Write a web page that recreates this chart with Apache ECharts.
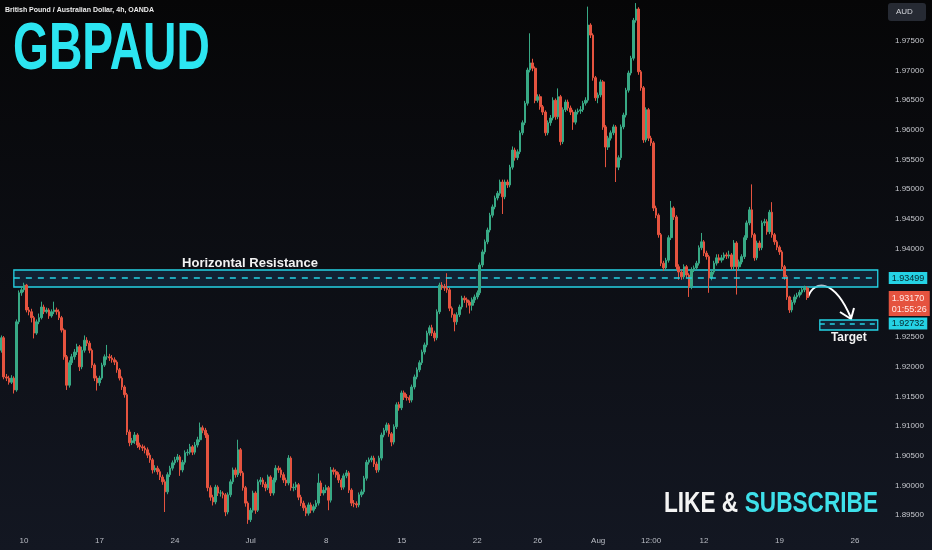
<!DOCTYPE html>
<html>
<head>
<meta charset="utf-8">
<title>GBPAUD 4h</title>
<script src="https://cdn.jsdelivr.net/npm/echarts@6/dist/echarts.min.js"></script>
<style>
  html, body { margin: 0; padding: 0; background: #0b0c10; }
  #main { width: 932px; height: 550px; }
</style>
</head>
<body>
<div id="main"></div>
<script>
// open of the very first bar; every later bar opens at the previous close
var firstOpen = 1.9228;

// 4h bars, one row per bar: [close, low, high]
var wkJun06 = [
  [1.9249,1.9224,1.9253],[1.9183,1.9179,1.9252],[1.9181,1.9176,1.9188],[1.9174,1.9170,1.9185],[1.9181,1.9171,1.9186],
  [1.9161,1.9155,1.9184],[1.9276,1.9158,1.9280],[1.9325,1.9272,1.9329],[1.9330,1.9320,1.9336]
];
var wkJun10 = [
  [1.9338,1.9326,1.9342],[1.9296,1.9292,1.9340],[1.9293,1.9287,1.9301],[1.9283,1.9275,1.9298],[1.9257,1.9248,1.9286],
  [1.9276,1.9254,1.9280],[1.9283,1.9272,1.9290],[1.9301,1.9280,1.9310],[1.9293,1.9289,1.9305],[1.9296,1.9290,1.9300],
  [1.9286,1.9281,1.9299],[1.9293,1.9283,1.9297],[1.9296,1.9289,1.9310],[1.9293,1.9288,1.9300],[1.9283,1.9279,1.9297],
  [1.9262,1.9258,1.9286],[1.9217,1.9212,1.9265],[1.9169,1.9161,1.9220],[1.9207,1.9165,1.9211],[1.9217,1.9203,1.9222],
  [1.9225,1.9212,1.9230],[1.9234,1.9220,1.9239],[1.9200,1.9193,1.9237],[1.9228,1.9196,1.9234],[1.9245,1.9224,1.9253],
  [1.9240,1.9235,1.9250],[1.9228,1.9223,1.9244],[1.9203,1.9198,1.9231],[1.9181,1.9176,1.9206],[1.9173,1.9160,1.9185]
];
var wkJun17 = [
  [1.9181,1.9168,1.9185],[1.9203,1.9178,1.9207],[1.9217,1.9200,1.9221],[1.9217,1.9212,1.9237],[1.9215,1.9210,1.9222],
  [1.9212,1.9207,1.9220],[1.9208,1.9203,1.9216],[1.9195,1.9190,1.9211],[1.9181,1.9177,1.9198],[1.9166,1.9161,1.9184],
  [1.9153,1.9148,1.9169],[1.9090,1.9085,1.9156],[1.9072,1.9066,1.9094],[1.9075,1.9068,1.9080],[1.9085,1.9070,1.9090],
  [1.9068,1.9063,1.9088],[1.9065,1.9060,1.9072],[1.9063,1.9058,1.9069],[1.9060,1.9054,1.9067],[1.9051,1.9046,1.9064],
  [1.9043,1.9038,1.9055],[1.9026,1.9020,1.9046],[1.9029,1.9022,1.9034],[1.9023,1.9018,1.9033],[1.9014,1.9009,1.9027],
  [1.9006,1.9001,1.9018],[1.8989,1.8955,1.9010],[1.9018,1.8985,1.9022],[1.9029,1.9014,1.9033],[1.9038,1.9025,1.9042]
];
var wkJun24 = [
  [1.9043,1.9034,1.9048],[1.9048,1.9039,1.9053],[1.9026,1.9016,1.9051],[1.9039,1.9022,1.9043],[1.9055,1.9035,1.9059],
  [1.9056,1.9050,1.9061],[1.9065,1.9052,1.9070],[1.9056,1.9051,1.9068],[1.9068,1.9052,1.9073],[1.9077,1.9064,1.9082],
  [1.9097,1.9073,1.9106],[1.9093,1.9088,1.9101],[1.9085,1.9080,1.9097],[1.8996,1.8990,1.9088],[1.8980,1.8974,1.9000],
  [1.8972,1.8966,1.8984],[1.8997,1.8968,1.9001],[1.8987,1.8982,1.9000],[1.8987,1.8981,1.8992],[1.8984,1.8978,1.8990],
  [1.8955,1.8948,1.8987],[1.8984,1.8951,1.8988],[1.9006,1.8980,1.9010],[1.9026,1.9002,1.9030],[1.9018,1.9013,1.9030],
  [1.9060,1.9014,1.9077],[1.9021,1.9016,1.9063],[1.8996,1.8991,1.9024],[1.8970,1.8964,1.8999],[1.8942,1.8935,1.8973]
];
var wkJul01 = [
  [1.8958,1.8938,1.8962],[1.8987,1.8954,1.8991],[1.8958,1.8952,1.8990],[1.9006,1.8955,1.9010],[1.9009,1.9001,1.9014],
  [1.9002,1.8997,1.9013],[1.8996,1.8990,1.9006],[1.9014,1.8992,1.9018],[1.8987,1.8982,1.9017],[1.9009,1.8983,1.9013],
  [1.9029,1.9005,1.9034],[1.9026,1.9021,1.9033],[1.9018,1.9013,1.9030],[1.9009,1.9004,1.9022],[1.9004,1.8999,1.9013],
  [1.9046,1.9000,1.9051],[1.8996,1.8991,1.9049],[1.8997,1.8990,1.9003],[1.9001,1.8992,1.9006],[1.8980,1.8975,1.9004],
  [1.8970,1.8965,1.8984],[1.8962,1.8957,1.8974],[1.8953,1.8948,1.8966],[1.8967,1.8949,1.8971],[1.8958,1.8953,1.8971],
  [1.8964,1.8954,1.8968],[1.8970,1.8960,1.8975],[1.9004,1.8966,1.9020],[1.8987,1.8982,1.9008],[1.8992,1.8983,1.8997]
];
var wkJul08 = [
  [1.8996,1.8987,1.9001],[1.8975,1.8958,1.8999],[1.9026,1.8971,1.9031],[1.9023,1.9018,1.9030],[1.9018,1.9013,1.9027],
  [1.9009,1.9004,1.9022],[1.8997,1.8992,1.9012],[1.9016,1.8993,1.9020],[1.9021,1.9012,1.9026],[1.8992,1.8987,1.9024],
  [1.8970,1.8965,1.8995],[1.8969,1.8963,1.8975],[1.8967,1.8962,1.8973],[1.8984,1.8963,1.8988],[1.8989,1.8980,1.8993],
  [1.9012,1.8985,1.9016],[1.9039,1.9008,1.9043],[1.9043,1.9035,1.9047],[1.9046,1.9039,1.9050],[1.9036,1.9031,1.9050],
  [1.9026,1.9021,1.9040],[1.9046,1.9022,1.9050],[1.9085,1.9042,1.9089],[1.9093,1.9081,1.9097],[1.9102,1.9089,1.9106],
  [1.9087,1.9082,1.9105],[1.9073,1.9066,1.9090],[1.9099,1.9069,1.9103],[1.9136,1.9095,1.9140],[1.9131,1.9126,1.9141]
];
var wkJul15 = [
  [1.9156,1.9127,1.9160],[1.9149,1.9144,1.9160],[1.9148,1.9143,1.9154],[1.9144,1.9139,1.9152],[1.9166,1.9140,1.9170],
  [1.9183,1.9162,1.9187],[1.9195,1.9179,1.9199],[1.9207,1.9191,1.9211],[1.9225,1.9203,1.9229],[1.9237,1.9221,1.9241],
  [1.9257,1.9233,1.9261],[1.9266,1.9253,1.9270],[1.9257,1.9252,1.9271],[1.9249,1.9243,1.9261],[1.9293,1.9245,1.9297],
  [1.9338,1.9289,1.9342],[1.9335,1.9330,1.9343],[1.9333,1.9328,1.9340],[1.9330,1.9325,1.9358],[1.9299,1.9294,1.9334],
  [1.9288,1.9283,1.9302],[1.9276,1.9260,1.9290],[1.9288,1.9271,1.9292],[1.9301,1.9284,1.9305],[1.9316,1.9297,1.9320],
  [1.9313,1.9308,1.9320],[1.9309,1.9300,1.9317],[1.9304,1.9290,1.9312],[1.9313,1.9295,1.9317],[1.9318,1.9308,1.9322]
];
var wkJul22 = [
  [1.9325,1.9314,1.9329],[1.9372,1.9321,1.9376],[1.9394,1.9368,1.9398],[1.9411,1.9390,1.9415],[1.9431,1.9407,1.9435],
  [1.9456,1.9427,1.9460],[1.9470,1.9452,1.9474],[1.9485,1.9466,1.9489],[1.9493,1.9481,1.9497],[1.9512,1.9489,1.9516],
  [1.9487,1.9458,1.9516],[1.9512,1.9483,1.9516],[1.9507,1.9502,1.9516],[1.9537,1.9503,1.9541],[1.9566,1.9533,1.9572],
  [1.9553,1.9548,1.9570],[1.9563,1.9549,1.9567],[1.9595,1.9559,1.9599],[1.9612,1.9591,1.9616],[1.9645,1.9608,1.9649],
  [1.9701,1.9641,1.9705],[1.9713,1.9697,1.9763],[1.9704,1.9699,1.9720],[1.9650,1.9645,1.9707],[1.9656,1.9646,1.9660],
  [1.9639,1.9634,1.9660],[1.9630,1.9625,1.9642],[1.9595,1.9590,1.9633],[1.9612,1.9591,1.9616],[1.9620,1.9607,1.9625]
];
var wkJul29 = [
  [1.9650,1.9616,1.9655],[1.9622,1.9617,1.9653],[1.9656,1.9618,1.9670],[1.9580,1.9574,1.9659],[1.9634,1.9576,1.9638],
  [1.9647,1.9630,1.9651],[1.9637,1.9632,1.9651],[1.9630,1.9625,1.9641],[1.9613,1.9600,1.9634],[1.9630,1.9609,1.9634],
  [1.9632,1.9626,1.9636],[1.9634,1.9627,1.9640],[1.9645,1.9630,1.9649],[1.9650,1.9641,1.9655],[1.9777,1.9646,1.9808],
  [1.9760,1.9755,1.9780],[1.9688,1.9683,1.9763],[1.9654,1.9649,1.9691],[1.9659,1.9645,1.9663],[1.9681,1.9655,1.9685],
  [1.9605,1.9600,1.9684],[1.9571,1.9537,1.9608],[1.9586,1.9566,1.9590],[1.9595,1.9582,1.9599],[1.9605,1.9591,1.9609],
  [1.9537,1.9512,1.9608],[1.9553,1.9532,1.9557],[1.9605,1.9549,1.9609],[1.9625,1.9601,1.9629],[1.9667,1.9621,1.9671]
];
var wkAug05 = [
  [1.9696,1.9663,1.9700],[1.9721,1.9692,1.9725],[1.9785,1.9717,1.9789],[1.9804,1.9781,1.9814],[1.9698,1.9693,1.9807],
  [1.9671,1.9666,1.9701],[1.9583,1.9578,1.9674],[1.9634,1.9579,1.9638],[1.9586,1.9581,1.9637],[1.9578,1.9573,1.9590],
  [1.9468,1.9463,1.9581],[1.9456,1.9451,1.9472],[1.9423,1.9418,1.9459],[1.9375,1.9370,1.9426],[1.9367,1.9362,1.9379],
  [1.9380,1.9363,1.9384],[1.9418,1.9376,1.9422],[1.9468,1.9414,1.9480],[1.9453,1.9448,1.9471],[1.9369,1.9364,1.9456],
  [1.9360,1.9347,1.9373],[1.9352,1.9347,1.9364],[1.9369,1.9348,1.9373],[1.9355,1.9350,1.9372],[1.9335,1.9318,1.9358],
  [1.9364,1.9331,1.9368],[1.9367,1.9360,1.9371],[1.9375,1.9363,1.9379],[1.9401,1.9371,1.9405],[1.9411,1.9397,1.9426]
];
var wkAug12 = [
  [1.9392,1.9387,1.9414],[1.9386,1.9381,1.9396],[1.9350,1.9325,1.9389],[1.9360,1.9346,1.9364],[1.9375,1.9356,1.9379],
  [1.9384,1.9371,1.9390],[1.9380,1.9375,1.9390],[1.9384,1.9376,1.9389],[1.9389,1.9380,1.9393],[1.9387,1.9382,1.9393],
  [1.9389,1.9383,1.9396],[1.9369,1.9364,1.9392],[1.9409,1.9365,1.9414],[1.9369,1.9322,1.9412],[1.9377,1.9364,1.9381],
  [1.9386,1.9373,1.9390],[1.9418,1.9382,1.9422],[1.9443,1.9414,1.9447],[1.9465,1.9439,1.9470],[1.9423,1.9418,1.9508],
  [1.9384,1.9379,1.9426],[1.9409,1.9380,1.9413],[1.9401,1.9396,1.9413],[1.9443,1.9397,1.9447],[1.9445,1.9438,1.9450],
  [1.9428,1.9423,1.9449],[1.9461,1.9424,1.9465],[1.9423,1.9418,1.9478],[1.9411,1.9406,1.9426],[1.9402,1.9397,1.9414]
];
var wkAug19 = [
  [1.9394,1.9389,1.9405],[1.9369,1.9364,1.9397],[1.9352,1.9347,1.9372],[1.9318,1.9313,1.9355],[1.9296,1.9291,1.9320],
  [1.9309,1.9292,1.9313],[1.9318,1.9305,1.9322],[1.9321,1.9314,1.9325],[1.9326,1.9317,1.9330],[1.9330,1.9322,1.9334],
  [1.9333,1.9326,1.9337],[1.9317,1.9313,1.9336]
];

// x axis labels (bar key -> text)
var tickKeys = ['2024-06-10 00','2024-06-17 00','2024-06-24 00','2024-07-01 00','2024-07-08 00','2024-07-15 00',
  '2024-07-22 00','2024-07-26 00','2024-08-01 00','2024-08-06 12','2024-08-12 00','2024-08-19 00','2024-08-26 00'];
var tickText = ['10','17','24','Jul','8','15','22','26','Aug','12:00','12','19','26'];

// price scale labels
var yTicks = [1.895,1.900,1.905,1.910,1.915,1.920,1.925,1.930,1.935,1.940,1.945,1.950,1.955,1.960,1.965,1.970,1.975];

// drawn levels
var resistLevel = 1.93499, resistTop = 1.93635, resistBottom = 1.93348;
var targetLevel = 1.92732, targetTop = 1.92791, targetBottom = 1.92622;
var lastPrice = 1.93170, countdown = '01:55:26';

var CYAN = '#25d2e4';
var UP = '#38a985';
var DOWN = '#e5533f';
var TOTAL_SLOTS = 349;

function pad(n) { return n < 10 ? '0' + n : '' + n; }

// 6 bars per trading day, starting Jun 6 12:00
function buildCategories(total) {
  var out = [];
  var d = new Date(Date.UTC(2024, 5, 6));
  var hours = [0, 4, 8, 12, 16, 20];
  var firstDay = true;
  while (out.length < total) {
    var wd = d.getUTCDay();
    if (wd >= 1 && wd <= 5) {
      for (var k = 0; k < hours.length; k++) {
        if (firstDay && hours[k] < 12) continue;
        if (out.length < total) {
          out.push(d.getUTCFullYear() + '-' + pad(d.getUTCMonth() + 1) + '-' + pad(d.getUTCDate()) + ' ' + pad(hours[k]));
        }
      }
      firstDay = false;
    }
    d.setUTCDate(d.getUTCDate() + 1);
  }
  return out;
}

var categories = buildCategories(TOTAL_SLOTS);

var rows = [].concat(wkJun06, wkJun10, wkJun17, wkJun24, wkJul01, wkJul08, wkJul15, wkJul22, wkJul29, wkAug05, wkAug12, wkAug19);
var candles = [];
var prev = firstOpen;
rows.forEach(function (r) {
  candles.push([prev, r[0], r[1], r[2]]);
  prev = r[0];
});

var lastIdx = rows.length - 1;
var endCat = categories[TOTAL_SLOTS - 1];

var chart = echarts.init(document.getElementById('main'));

function levelLabel(text, bg, fg) {
  return {
    show: true, position: 'end', distance: 11,
    formatter: text,
    backgroundColor: bg, color: fg, fontSize: 9, padding: [2, 3, 1, 3],
    fontFamily: 'Liberation Sans'
  };
}

var boxStyle = { color: 'rgba(28,72,110,0.35)', borderColor: CYAN, borderWidth: 1.3 };

var option = {
  animation: false,
  backgroundColor: {
    type: 'linear', x: 0, y: 0, x2: 0, y2: 1,
    colorStops: [{ offset: 0, color: '#060607' }, { offset: 1, color: '#131722' }]
  },
  grid: { left: -1, right: 53, top: 0, bottom: 22 },
  xAxis: {
    type: 'category',
    data: categories,
    boundaryGap: true,
    axisLine: { show: false },
    axisTick: { show: false },
    splitLine: { show: false },
    axisLabel: {
      interval: function (i, v) { return tickKeys.indexOf(v) >= 0; },
      formatter: function (v) {
        var k = tickKeys.indexOf(v);
        return k >= 0 ? tickText[k] : '';
      },
      color: '#b9bcc4', fontSize: 8, margin: 9, fontFamily: 'Liberation Sans'
    }
  },
  yAxis: {
    type: 'value',
    position: 'right',
    min: 1.8928,
    max: 1.98192,
    axisLine: { show: false },
    axisTick: { show: false },
    splitLine: { show: false },
    axisLabel: {
      customValues: yTicks,
      formatter: function (v) { return Number(v).toFixed(5); },
      color: '#c6c8ce', fontSize: 8, margin: 16, fontFamily: 'Liberation Sans'
    }
  },
  series: [{
    type: 'candlestick',
    data: candles,
    barWidth: 2.1,
    itemStyle: { color: UP, color0: DOWN, borderColor: UP, borderColor0: DOWN, borderWidth: 1 },
    markArea: {
      silent: true,
      data: [
        [
          { xAxis: categories[5], yAxis: resistTop, itemStyle: boxStyle },
          { xAxis: endCat, yAxis: resistBottom }
        ],
        [
          { xAxis: categories[325], yAxis: targetTop, itemStyle: boxStyle,
            label: { show: true, position: 'bottom', distance: 1, formatter: 'Target', color: '#f2f2f2',
              fontSize: 12, fontWeight: 'bold', fontFamily: 'Liberation Sans' } },
          { xAxis: endCat, yAxis: targetBottom }
        ]
      ]
    },
    markLine: {
      silent: true,
      symbol: ['none', 'none'],
      data: [
        [
          { xAxis: categories[5], yAxis: resistLevel,
            lineStyle: { color: CYAN, type: [6, 6], width: 1.5 },
            label: levelLabel(resistLevel.toFixed(5), CYAN, '#06252b') },
          { xAxis: endCat, yAxis: resistLevel }
        ],
        [
          { xAxis: categories[325], yAxis: targetLevel,
            lineStyle: { color: CYAN, type: [5, 5], width: 1.5 },
            label: levelLabel(targetLevel.toFixed(5), CYAN, '#06252b') },
          { xAxis: endCat, yAxis: targetLevel }
        ],
        [
          { xAxis: categories[lastIdx], yAxis: lastPrice,
            lineStyle: { color: 'rgba(0,0,0,0)', width: 0 },
            label: {
              show: true, position: 'end', distance: 11, offset: [0, 6],
              formatter: lastPrice.toFixed(5) + '\n' + countdown,
              backgroundColor: DOWN, color: '#ffe9e6', fontSize: 9, lineHeight: 11,
              padding: [2, 3, 1, 3], fontFamily: 'Liberation Sans'
            } },
          { xAxis: endCat, yAxis: lastPrice }
        ]
      ]
    }
  }],
  graphic: [
    {
      type: 'text', x: 5, y: 10,
      style: { text: 'British Pound / Australian Dollar, 4h, OANDA', fill: '#ececec',
        font: 'bold 7px "Liberation Sans"', textVerticalAlign: 'middle' }
    },
    {
      type: 'text', x: 13, y: 18, scaleX: 0.7,
      style: { text: 'GBPAUD', fill: '#2ce5f1', font: 'bold 66px "Liberation Sans"',
        shadowBlur: 22, shadowColor: 'rgba(40,230,245,1)' }
    },
    {
      type: 'text', x: 250, y: 263,
      style: { text: 'Horizontal Resistance', fill: '#f2f2f2', font: 'bold 13px "Liberation Sans"',
        textAlign: 'center', textVerticalAlign: 'middle' }
    },
    {
      type: 'bezierCurve',
      shape: { x1: 808, y1: 297, cpx1: 814, cpy1: 280, cpx2: 834, cpy2: 278, x2: 851, y2: 318 },
      style: { stroke: '#ffffff', lineWidth: 2, fill: null }
    },
    {
      type: 'polyline',
      shape: { points: [[840, 312], [851, 319], [854, 308]] },
      style: { stroke: '#ffffff', lineWidth: 2, fill: null }
    },
    {
      type: 'text', x: 664, y: 489, scaleX: 0.78,
      style: { text: 'LIKE &', fill: '#f4f4f4', font: 'bold 29px "Liberation Sans"',
        shadowBlur: 10, shadowColor: 'rgba(255,255,255,0.8)' }
    },
    {
      type: 'text', x: 878, y: 489, scaleX: 0.78,
      style: { text: 'SUBSCRIBE', fill: '#3ee0ea', font: 'bold 29px "Liberation Sans"', textAlign: 'right',
        shadowBlur: 10, shadowColor: 'rgba(47,216,232,0.95)' }
    },
    {
      type: 'rect', shape: { x: 888, y: 3, width: 38, height: 18, r: 3 },
      style: { fill: '#262a33' }
    },
    {
      type: 'text', x: 896, y: 12,
      style: { text: 'AUD', fill: '#d4d6db', font: '8px "Liberation Sans"', textVerticalAlign: 'middle' }
    }
  ]
};

chart.setOption(option);
</script>
</body>
</html>
